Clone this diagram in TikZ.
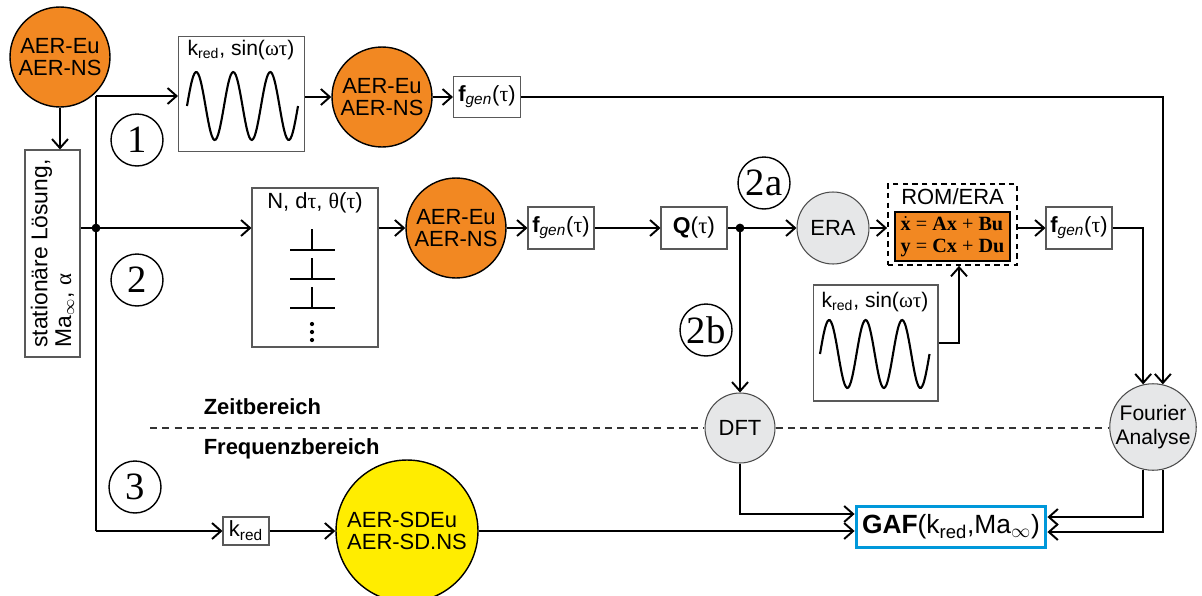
\documentclass[tikz,border=0pt]{standalone}
\usepackage{amsmath}
\usepackage{fontspec}
\setmainfont{Liberation Sans}
\newfontfamily\greekfont{Liberation Serif}
\newfontfamily\numfont{Liberation Serif}
\usetikzlibrary{arrows.meta,calc}
\definecolor{aerorange}{RGB}{242,136,34}
\definecolor{sdyellow}{RGB}{255,237,0}
\definecolor{procgray}{RGB}{230,231,232}
\definecolor{gafblue}{RGB}{0,152,218}
\newcommand{\gr}[1]{{\greekfont #1}}

\begin{document}
\begin{tikzpicture}[x=0.02cm, y=-0.02cm, line width=1.1pt, font=\fontsize{12.5}{13}\selectfont,
    arr/.style={-{Straight Barb[length=1.8mm,width=3.2mm]}},
    aercirc/.style={circle, draw, line width=0.8pt, fill=aerorange, minimum size=2cm, inner sep=0pt, align=center},
    valbox/.style={draw=black!65, line width=0.6pt, fill=white, inner sep=1pt},
    numcirc/.style={circle, draw, line width=0.8pt, minimum size=1.04cm, inner sep=0pt, font=\numfont\fontsize{22}{22}\selectfont},
    proccirc/.style={circle, draw=black!70, line width=0.6pt, fill=procgray, inner sep=0pt, align=center},
    wave/.style={line width=1.2pt, smooth, samples=90},
    rangelbl/.style={font=\bfseries\fontsize{12.5}{13}\selectfont, anchor=west}]
  \useasboundingbox (0,0) rectangle (1202,595);

  \node[aercirc] (src) at (60,57) {AER-Eu\\AER-NS};
  \node[valbox, rotate=90, minimum width=4.14cm, minimum height=1.1cm, align=left,
        font=\fontsize{13}{13.5}\selectfont] (stat) at (52.5,253.5) {stationäre Lösung,\\Ma$_\infty$, \gr{α}};
  \coordinate (bustop) at (96,96);
  \coordinate (busbot) at (96,531);
  \coordinate (dot1) at (96,228);

  \node[numcirc] (num1) at (137,140) {1};
  \node[numcirc] (num2) at (137,280) {2};
  \node[numcirc] (num3) at (135,487) {3};

  % Weg 1
  \node[valbox, minimum width=2.52cm, minimum height=2.3cm] (sin1) at (241.5,94) {};
  \node[font=\fontsize{12}{12}\selectfont] (sin1lbl) at (241,50) {k\textsubscript{red}, sin(\gr{ωτ})};
  \draw[wave] plot[domain=0:3] ({187+37*\x},{106-34*sin(360*\x)});
  \node[aercirc] (aer1) at (382,97) {AER-Eu\\AER-NS};
  \node[valbox, minimum width=1.34cm, minimum height=0.82cm] (fgen1) at (487,97) {\textbf{f}\textsubscript{\itshape gen}(\gr{τ})};

  % Weg 2
  \node[valbox, minimum width=2.52cm, minimum height=3.18cm] (nbox) at (315,267.5) {};
  \node (nboxlbl) at (315,203) {N, d\gr{τ}, \gr{θ}(\gr{τ})};
  \foreach \yb in {250,279,308}
    \draw (290,\yb) -- (335,\yb) (312,\yb) -- (312,{\yb-21});
  \foreach \yd in {324,332,340}
    \fill (312,\yd) circle (1.2pt);
  \node[aercirc] (aer2) at (456,228) {AER-Eu\\AER-NS};
  \node[valbox, minimum width=1.32cm, minimum height=0.84cm] (fgen2) at (561,228) {\textbf{f}\textsubscript{\itshape gen}(\gr{τ})};
  \node[valbox, minimum width=1.32cm, minimum height=0.84cm, font=\fontsize{13}{13}\selectfont] (qbox) at (694,228) {\textbf{Q}(\gr{τ})};
  \coordinate (dot2) at (740,228);
  \node[numcirc] (num2a) at (764,183) {2a};
  \node[numcirc] (num2b) at (706,330) {2b};
  \node[proccirc, minimum size=1.44cm] (era) at (833,228) {ERA};
  \node[draw, dashed, dash pattern=on 3pt off 2.5pt, line width=1pt, minimum width=2.58cm, minimum height=1.62cm] (rom) at (952.5,224.5) {};
  \node[inner sep=0.5pt] (romlbl) at (952.5,197) {ROM/ERA};
  \node[draw, line width=1pt, fill=aerorange, minimum width=2.3cm, minimum height=0.98cm, align=left, inner sep=1pt,
        font=\greekfont\fontsize{11.5}{12.5}\selectfont] (ss) at (952.5,236.5)
        {$\dot{\text{\bfseries x}}$ = \textbf{Ax} + \textbf{Bu}\\\textbf{y} = \textbf{Cx} + \textbf{Du}};
  \node[valbox, minimum width=1.32cm, minimum height=0.84cm] (fgen3) at (1079,228) {\textbf{f}\textsubscript{\itshape gen}(\gr{τ})};
  \node[valbox, minimum width=2.5cm, minimum height=2.32cm] (sin2) at (875.5,343) {};
  \node[font=\fontsize{12}{12}\selectfont] (sin2lbl) at (875,302) {k\textsubscript{red}, sin(\gr{ωτ})};
  \draw[wave] plot[domain=0:3] ({820+36.5*\x},{354-34*sin(360*\x)});

  \node[proccirc, minimum size=1.4cm] (dft) at (740,428) {DFT};
  \node[proccirc, minimum size=1.72cm, font=\fontsize{12}{13.5}\selectfont] (fourier) at (1153,427) {Fourier\\Analyse};

  % Weg 3
  \node[valbox, minimum width=0.92cm, minimum height=0.56cm] (kred) at (246,531) {k\textsubscript{red}};
  \node[circle, draw, line width=0.8pt, fill=sdyellow, minimum size=2.84cm, align=left] (sd) at (407,531) {AER-SDEu\\AER-SD.NS};
  \node[draw=gafblue, line width=1.8pt, fill=white, minimum width=3.56cm, minimum height=0.82cm,
        font=\fontsize{15}{15}\selectfont] (gaf) at (951,527) {\textbf{GAF}(k\textsubscript{red},Ma\textsubscript{$\infty$})};

  \node[rangelbl] (zeit) at (197,407) {Zeitbereich};
  \node[rangelbl] (freq) at (197,449) {Frequenzbereich};
  \coordinate (dashstart) at (150,428);

  \draw[arr] (src) -- (src |- stat.east);
  \draw (stat.south |- dot1) -- (dot1);
  \draw (bustop) -- (busbot);
  \fill (dot1) circle (2.5pt);
  \draw[arr] (bustop) -- (bustop -| sin1.west);
  \draw[arr] (dot1) -- (dot1 -| nbox.west);
  \draw[arr] (busbot) -- (kred);
  \draw[arr] (sin1.east |- aer1) -- (aer1);
  \draw[arr] (aer1) -- (fgen1);
  \draw[arr] (fgen1) -| (fourier.77);
  \draw[arr] (nbox.east |- aer2) -- (aer2);
  \draw[arr] (aer2) -- (fgen2);
  \draw[arr] (fgen2) -- (qbox);
  \draw (qbox) -- (dot2);
  \fill (dot2) circle (2.5pt);
  \draw[arr] (dot2) -- (era);
  \draw[arr] (era) -- (era -| rom.west);
  \draw[arr] (rom.east |- fgen3) -- (fgen3);
  \draw[arr] (fgen3) -| (fourier.103);
  \draw[arr] (sin2.east) -| ($(rom.south)+(6.5,0)$);
  \draw[arr] (dot2) -- (dft);
  \draw[arr] (dft) |- ($(gaf.west)+(0,-13)$);
  \draw[arr] (kred) -- (sd);
  \draw[arr] (sd) -- (gaf.west |- sd);
  \draw[arr] (fourier.257) |- ($(gaf.east)+(0,-10)$);
  \draw[arr] (fourier.283) |- ($(gaf.east)+(0,5)$);
  \draw[black!80, line width=0.6pt, dash pattern=on 4pt off 3pt] (dashstart) -- (dft.west);
  \draw[black!80, line width=0.6pt, dash pattern=on 4pt off 3pt] (dft.east) -- (fourier.west |- dft);
\end{tikzpicture}
\end{document}
